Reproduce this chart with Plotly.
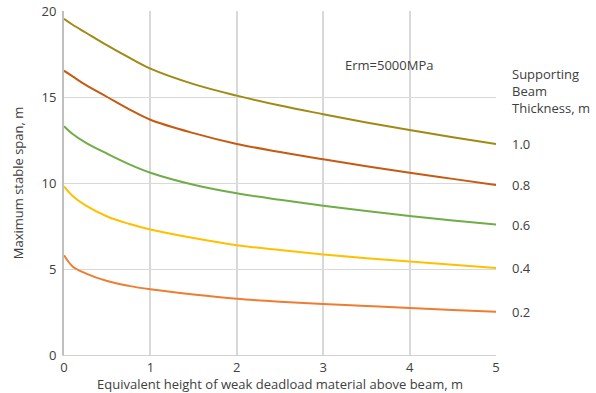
import plotly.graph_objects as go

x_vals = [0, 0.1, 0.25, 0.5, 0.75, 1, 1.5, 2, 2.5, 3, 3.5, 4, 4.5, 5]
thickness_labels = ["1.0", "0.8", "0.6", "0.4", "0.2"]
span_10 = [19.55, 19.2, 18.75, 18.0, 17.3, 16.65, 15.75, 15.08, 14.5, 14.0, 13.52, 13.08, 12.66, 12.27]
span_08 = [16.53, 16.2, 15.7, 15.0, 14.3, 13.68, 12.9, 12.27, 11.8, 11.38, 10.98, 10.6, 10.24, 9.88]
span_06 = [13.3, 12.85, 12.35, 11.7, 11.1, 10.6, 9.9, 9.4, 9.02, 8.68, 8.37, 8.08, 7.82, 7.58]
span_04 = [9.8, 9.25, 8.7, 8.05, 7.63, 7.3, 6.8, 6.38, 6.1, 5.85, 5.63, 5.43, 5.24, 5.06]
span_02 = [5.8, 5.15, 4.75, 4.3, 4.02, 3.82, 3.52, 3.27, 3.1, 2.97, 2.85, 2.73, 2.62, 2.52]
series = [span_10, span_08, span_06, span_04, span_02]
colors = ["#A08A14", "#C55A11", "#70AD47", "#FFC000", "#ED7D31"]

x_ticks = [0, 1, 2, 3, 4, 5]
y_ticks = [0, 5, 10, 15, 20]

FONT = "Open Sans"
TXT = "#404040"

fig = go.Figure()
for lab, ys, c in zip(thickness_labels, series, colors):
    fig.add_trace(go.Scatter(x=x_vals, y=ys, mode="lines", name=lab,
                             line=dict(color=c, width=2, shape="spline", smoothing=1.0),
                             showlegend=False, hoverinfo="skip"))
    fig.add_annotation(x=1, xref="paper", y=ys[-1], yref="y", text=lab,
                       showarrow=False, xanchor="left", yanchor="middle", xshift=14,
                       font=dict(family=FONT, size=13, color=TXT))

fig.add_annotation(x=1, xref="paper", y=15.35, yref="y",
                   text="Supporting<br>Beam<br>Thickness, m", align="left",
                   showarrow=False, xanchor="left", yanchor="middle", xshift=14,
                   font=dict(family=FONT, size=13, color=TXT))
fig.add_annotation(x=3.76, y=16.86, xref="x", yref="y", text="Erm=5000MPa",
                   showarrow=False, font=dict(family=FONT, size=13, color=TXT))

fig.update_layout(
    width=596, height=393,
    margin=dict(l=64, r=100, t=11, b=38, autoexpand=False),
    paper_bgcolor="white", plot_bgcolor="white",
    font=dict(family=FONT, size=13, color=TXT),
)
fig.update_xaxes(range=[0, 5], tickvals=x_ticks, showgrid=True, gridcolor="#D9D9D9", gridwidth=2,
                 zeroline=False, showline=True, linecolor="#D0D0D0", linewidth=1,
                 ticks="", ticklabelstandoff=0, automargin=False,
                 title=dict(text="Equivalent height of weak deadload material above beam, m",
                            font=dict(size=13), standoff=0),
                 tickfont=dict(size=13))
fig.update_yaxes(range=[0, 20], tickvals=y_ticks, showgrid=True, gridcolor="#D9D9D9", gridwidth=1,
                 zeroline=False, showline=True, linecolor="#BFBFBF", linewidth=2,
                 ticks="", ticklabelstandoff=3, automargin=False,
                 title=dict(text="Maximum stable span, m", font=dict(size=13), standoff=15),
                 tickfont=dict(size=13))

fig.write_html("out.html")
